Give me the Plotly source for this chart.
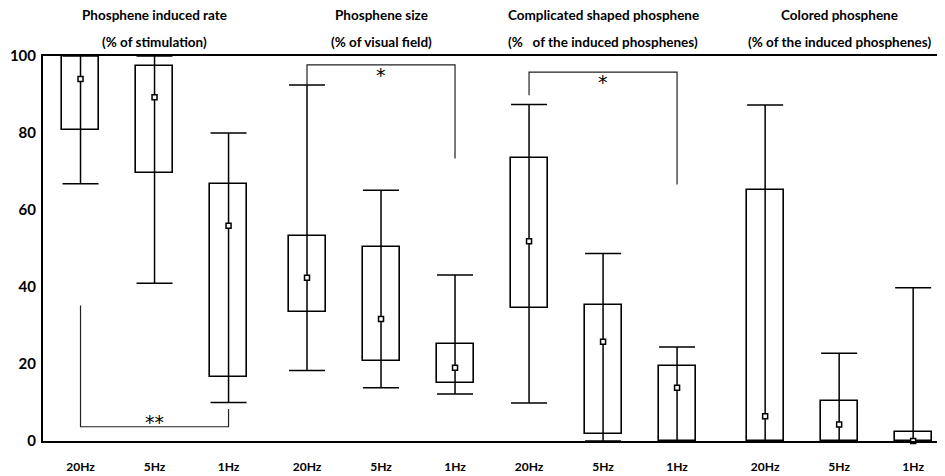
import plotly.graph_objects as go

# ---- data ----
group_titles = ["Phosphene induced rate", "Phosphene size",
                "Complicated shaped phosphene", "Colored phosphene"]
group_subtitles = ["(% of stimulation)", "(% of visual field)",
                   "(%   of the induced phosphenes)", "(% of the induced phosphenes)"]
freq_labels = ["20Hz", "5Hz", "1Hz"]

lower_whisker = [66.8, 41.0, 10.0, 18.3, 13.8, 12.2, 9.9, 0.0, 0.0, 0.0, 0.0, 0.0]
q1 = [80.9, 69.6, 16.6, 33.4, 20.7, 15.0, 34.5, 1.9, 0.0, 0.0, 0.0, 0.0]
median = [94.0, 89.3, 55.9, 42.4, 31.7, 19.0, 51.9, 25.8, 13.8, 6.4, 4.3, 0.0]
q3 = [100.0, 97.5, 66.8, 53.2, 50.4, 25.2, 73.5, 35.2, 19.4, 65.2, 10.4, 2.3]
upper_whisker = [100.0, 100.0, 80.0, 92.5, 65.1, 43.1, 87.4, 48.7, 24.4, 87.3, 22.8, 39.8]

# significance brackets: (label, from box, to box, left end, bar level, right end)
brackets = [
    ("**", 0, 2, 35.2, 3.7, 8.3),
    ("*", 3, 5, 92.5, 97.7, 73.4),
    ("*", 6, 8, 89.8, 95.8, 66.6),
]

# ---- layout helpers ----
group_offsets = [0.0, 3.06, 6.06, 9.25]
positions = [g + k for g in group_offsets for k in range(3)]
tick_text = freq_labels * len(group_titles)

FONT = "Lato"
fig = go.Figure()

# boxes (q1..q3)
fig.add_trace(go.Bar(
    x=positions, base=q1, y=[b - a for a, b in zip(q1, q3)], width=0.5,
    marker=dict(color="white", line=dict(color="black", width=1.6)),
    showlegend=False, hoverinfo="skip"))

# whiskers
fig.add_trace(go.Scatter(
    x=positions, y=lower_whisker, mode="markers",
    marker=dict(size=1, color="rgba(0,0,0,0)"),
    error_y=dict(type="data", symmetric=False,
                 array=[u - l for l, u in zip(lower_whisker, upper_whisker)],
                 arrayminus=[0] * len(positions),
                 color="black", thickness=1.5, width=18),
    showlegend=False, hoverinfo="skip", cliponaxis=False))

# medians
fig.add_trace(go.Scatter(
    x=positions, y=median, mode="markers",
    marker=dict(symbol="square", size=5, color="white",
                line=dict(color="black", width=1.5)),
    showlegend=False, cliponaxis=False))

# brackets
for label, a, b, y_left, y_bar, y_right in brackets:
    xa, xb = positions[a], positions[b]
    fig.add_trace(go.Scatter(
        x=[xa, xa, xb, xb], y=[y_left, y_bar, y_bar, y_right], mode="lines",
        line=dict(color="#222", width=1.2), showlegend=False, hoverinfo="skip",
        cliponaxis=False))
    below = y_bar < 50
    fig.add_annotation(x=(xa + xb) / 2, y=y_bar, xref="x", yref="y",
                       text=label, showarrow=False, yanchor="middle",
                       yshift=5 if below else -10,
                       font=dict(family="DejaVu Sans", size=19, color="black"))

# group titles
for gi, (t, s) in enumerate(zip(group_titles, group_subtitles)):
    xc = positions[gi * 3 + 1]
    fig.add_annotation(x=xc, y=1.1077, xref="x", yref="paper", text=t, showarrow=False,
                       yanchor="middle", font=dict(family=FONT, size=13.5, color="black", weight="bold"))
    fig.add_annotation(x=xc, y=1.0363, xref="x", yref="paper", text=s, showarrow=False,
                       yanchor="middle", font=dict(family=FONT, size=13.5, color="black", weight="bold"))

# the page body has an 8px margin, so the figure is sized to end at the window edge
fig.update_layout(
    width=937, height=468,
    margin=dict(l=35, r=0, t=48, b=34.5),
    plot_bgcolor="white", paper_bgcolor="white",
    bargap=0,
    xaxis=dict(range=[-0.507, 11.68], tickvals=positions, ticktext=tick_text,
               showgrid=False, zeroline=False, showline=True, mirror=True,
               linecolor="black", linewidth=2, ticks="", ticklabelstandoff=14,
               automargin=False,
               tickfont=dict(family=FONT, size=12, color="black", weight="bold")),
    yaxis=dict(range=[0, 100], tickvals=[0, 20, 40, 60, 80, 100],
               showgrid=False, zeroline=False, showline=True, mirror=False,
               linecolor="black", linewidth=2, ticks="", ticklabelstandoff=2,
               automargin=False,
               tickfont=dict(family=FONT, size=15, color="black", weight="bold")),
)

fig.write_html("out.html")
